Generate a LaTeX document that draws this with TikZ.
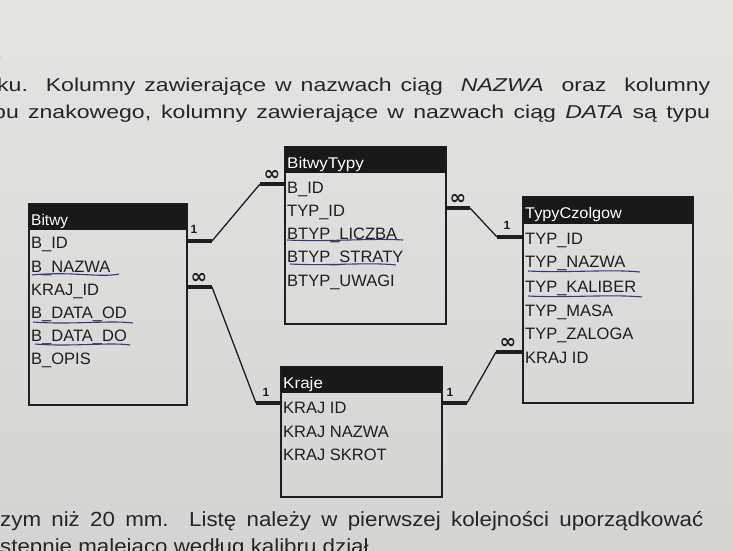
\documentclass[tikz,border=0pt]{standalone}
\usepackage{fontspec}
\usepackage{graphicx}
\setmainfont{Liberation Sans}
\newfontfamily\symf{DejaVu Sans}
\definecolor{paperA}{RGB}{228,229,227}
\definecolor{paperB}{RGB}{212,213,211}
\definecolor{ink}{RGB}{30,30,30}
\definecolor{pen}{RGB}{55,55,135}
\begin{document}
\begin{tikzpicture}[x=1pt,y=-1pt,
  tbl/.style={draw=ink,line width=1.3pt},
  hdr/.style={fill=black!90},
  ttl/.style={anchor=base west,inner sep=0,text=white,font=\fontsize{15.5}{15.5}\selectfont},
  fld/.style={anchor=base west,inner sep=0,text=ink,font=\fontsize{16.5}{16.5}\selectfont},
  bar/.style={line width=3.5pt,draw=ink},
  rel/.style={line width=1.3pt,draw=ink},
  one/.style={inner sep=0,text=ink,font=\bfseries\fontsize{12}{12}\selectfont},
  many/.style={inner sep=0,text=ink,font=\symf\bfseries\fontsize{20}{20}\selectfont},
  und/.style={draw=pen,line width=1.1pt},
  para/.style={anchor=base west,inner sep=0,text=black!85,font=\fontsize{18.6}{18.6}\selectfont}]
\useasboundingbox (0,0) rectangle (733,550);
\clip (0,0) rectangle (733,550);
\shade[top color=paperA,bottom color=paperB] (0,0) rectangle (733,550);

% page text
\node[para] (t0) at (-10,58) {\fontsize{20}{20}\selectfont 2};
\node[para] (t1) at (-3,91) {\scalebox{1.24}[1]{\makebox[575pt][s]{ku.\ \ Kolumny zawierające w nazwach ciąg\ \ \textit{NAZWA}\ \ oraz\ \ kolumny}}};
\node[para] (t2) at (-7,118) {\scalebox{1.24}[1]{\makebox[578pt][s]{pu znakowego, kolumny zawierające w nazwach ciąg \textit{DATA} są typu}}};
\node[para] (t3) at (0,526) {\scalebox{1.2}[1.1]{\makebox[586pt][s]{zym niż 20 mm. Listę należy w pierwszej kolejności uporządkować}}};
\node[para] (t4) at (0,553) {\scalebox{1.2}[1.1]{stępnie malejąco według kalibru dział}};

% Bitwy
\draw[tbl] (29,204) rectangle (187,405);
\fill[hdr] (29,204) rectangle (187,230);
\node[ttl] (bwT) at (31,225) {Bitwy};
\node[fld] (bw1) at (31,248) {B\_ID};
\node[fld] (bw2) at (31,272) {B\_NAZWA};
\node[fld] (bw3) at (31,295) {KRAJ\_ID};
\node[fld] (bw4) at (31,318) {B\_DATA\_OD};
\node[fld] (bw5) at (31,341) {B\_DATA\_DO};
\node[fld] (bw6) at (31,364) {B\_OPIS};

% BitwyTypy
\draw[tbl] (285,147) rectangle (446,324);
\fill[hdr] (285,147) rectangle (446,173);
\node[ttl] (btT) at (287,168) {\scalebox{1.1}[1]{BitwyTypy}};
\node[fld] (bt1) at (287,193) {B\_ID};
\node[fld] (bt2) at (287,216) {TYP\_ID};
\node[fld] (bt3) at (287,239) {BTYP\_LICZBA};
\node[fld] (bt4) at (287,262) {BTYP\_STRATY};
\node[fld] (bt5) at (287,286) {BTYP\_UWAGI};

% TypyCzolgow
\draw[tbl] (523,197) rectangle (693,403);
\fill[hdr] (523,197) rectangle (693,224);
\node[ttl] (tcT) at (525,218) {\scalebox{1.05}[1]{TypyCzolgow}};
\node[fld] (tc1) at (525,244) {TYP\_ID};
\node[fld] (tc2) at (525,267) {TYP\_NAZWA};
\node[fld] (tc3) at (525,292) {TYP\_KALIBER};
\node[fld] (tc4) at (525,316) {TYP\_MASA};
\node[fld] (tc5) at (525,339) {TYP\_ZALOGA};
\node[fld] (tc6) at (525,363) {KRAJ ID};

% Kraje
\draw[tbl] (281,367) rectangle (442,497);
\fill[hdr] (281,367) rectangle (442,393);
\node[ttl] (krT) at (283,388) {\scalebox{1.1}[1]{Kraje}};
\node[fld] (kr1) at (283,413) {KRAJ ID};
\node[fld] (kr2) at (283,437) {KRAJ NAZWA};
\node[fld] (kr3) at (283,460) {KRAJ SKROT};

% hand-drawn underlines
\draw[und] (32,275) .. controls (70,271) and (100,278) .. (119,274);
\draw[und] (33,322) .. controls (70,325) and (110,320) .. (133,323);
\draw[und] (35,344) .. controls (70,347) and (110,342) .. (130,345);
\draw[und] (287,240) .. controls (330,242) and (370,238) .. (403,240);
\draw[und] (290,264) .. controls (330,266) and (370,262) .. (396,265);
\draw[und] (528,271) .. controls (570,273) and (610,269) .. (640,272);
\draw[und] (528,296) .. controls (570,298) and (610,294) .. (642,297);

% relationship end points
\coordinate (a1) at (187,241); \coordinate (a2) at (212,241);
\coordinate (a3) at (260,184); \coordinate (a4) at (285,184);
\coordinate (b1) at (187,287); \coordinate (b2) at (212,287);
\coordinate (b3) at (256,403); \coordinate (b4) at (281,403);
\coordinate (c1) at (446,208); \coordinate (c2) at (470,208);
\coordinate (c3) at (497,237); \coordinate (c4) at (523,237);
\coordinate (d1) at (523,352); \coordinate (d2) at (496,352);
\coordinate (d3) at (467,403); \coordinate (d4) at (442,403);

% Bitwy 1 -- oo BitwyTypy
\draw[bar] (a1) -- (a2);
\draw[rel] (a2) -- (a3);
\draw[bar] (a3) -- (a4);
\node[one] (l1) at (194,229) {1};
\node[many] (m1) at (272,175) {∞};

% Bitwy oo -- 1 Kraje
\draw[bar] (b1) -- (b2);
\draw[rel] (b2) -- (b3);
\draw[bar] (b3) -- (b4);
\node[many] (m2) at (199,278) {∞};
\node[one] (l2) at (266,392) {1};

% BitwyTypy oo -- 1 TypyCzolgow
\draw[bar] (c1) -- (c2);
\draw[rel] (c2) -- (c3);
\draw[bar] (c3) -- (c4);
\node[many] (m3) at (458,199) {∞};
\node[one] (l3) at (507,225) {1};

% TypyCzolgow oo -- 1 Kraje
\draw[bar] (d1) -- (d2);
\draw[rel] (d2) -- (d3);
\draw[bar] (d3) -- (d4);
\node[many] (m4) at (508,343) {∞};
\node[one] (l4) at (450,392) {1};
\end{tikzpicture}
\end{document}
